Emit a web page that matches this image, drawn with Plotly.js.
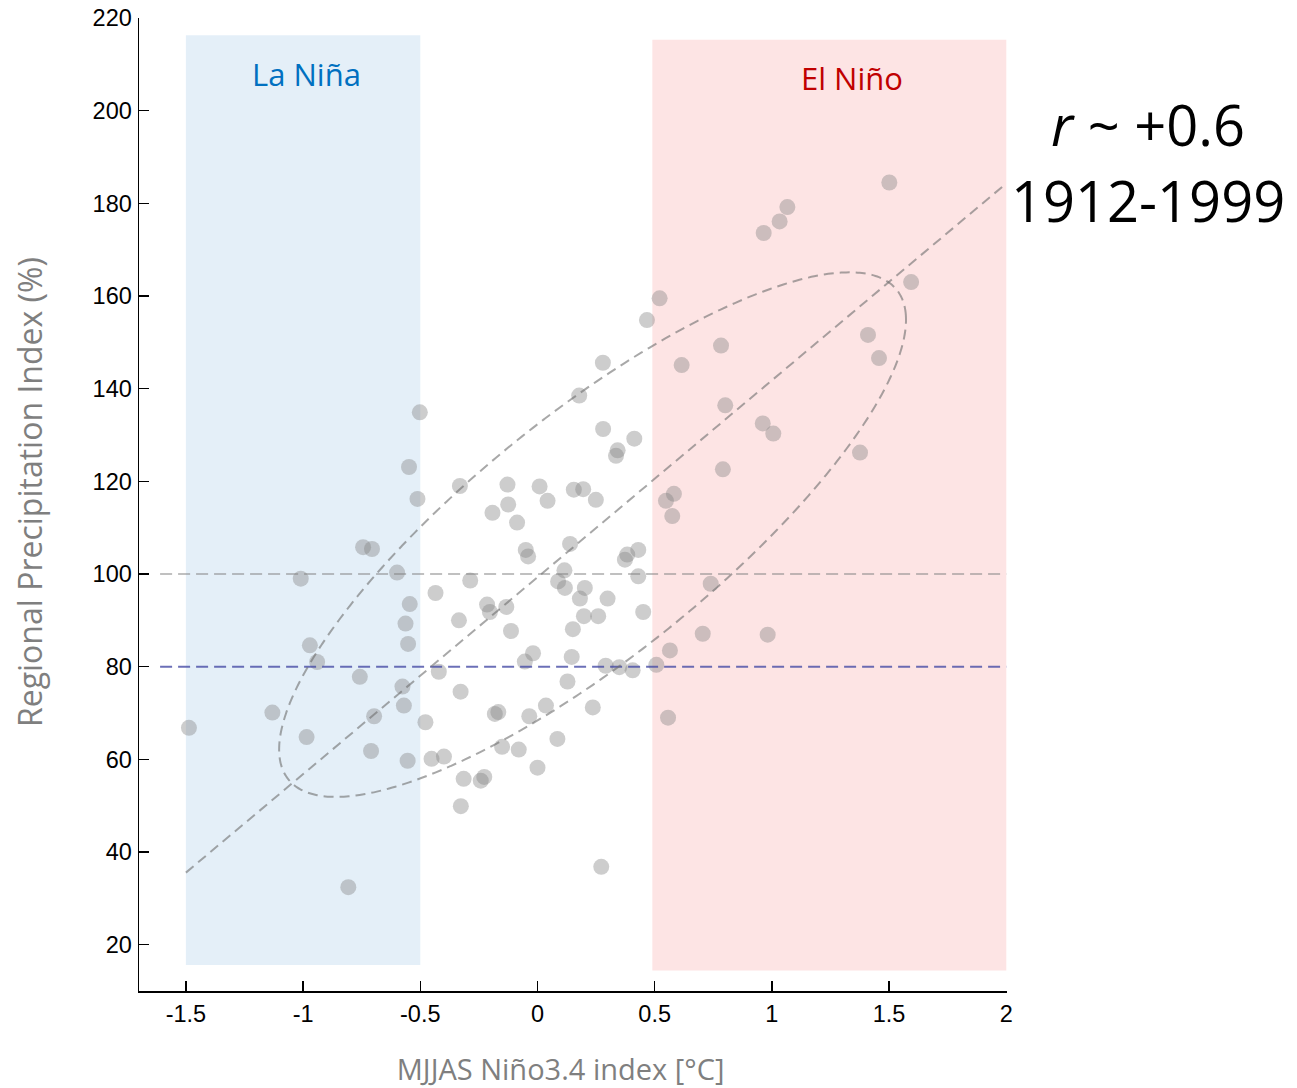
<!DOCTYPE html>
<html>
<head>
<meta charset="utf-8">
<script src="https://cdn.plot.ly/plotly-3.0.1.min.js"></script>
<style>html,body{margin:0;padding:0;background:#fff;}#chart{width:1297px;height:1088px;}</style>
</head>
<body>
<div id="chart"></div>
<script>
// ---- data ----
const ninoIndex = [
  -1.487,-1.131,-1.010,-0.985,-0.971,-0.940,-0.807,-0.758,-0.744,-0.706,
  -0.697,-0.710,-0.599,-0.576,-0.570,-0.563,-0.554,-0.552,-0.548,-0.545,
  -0.512,-0.502,-0.478,-0.452,-0.435,-0.421,-0.399,-0.335,-0.331,-0.328,
  -0.327,-0.315,-0.287,-0.242,-0.227,-0.215,-0.203,-0.192,-0.182,-0.167,
  -0.151,-0.133,-0.128,-0.125,-0.113,-0.087,-0.080,-0.054,-0.050,-0.040,
  -0.035,-0.019,0.000,0.009,0.036,0.043,0.085,0.088,0.115,0.117,
  0.128,0.139,0.146,0.151,0.155,0.178,0.195,0.181,0.202,0.198,
  0.236,0.249,0.259,0.272,0.279,0.280,0.291,0.299,0.335,0.342,
  0.349,0.373,0.383,0.406,0.413,0.430,0.430,0.451,0.467,0.507,
  0.521,0.548,0.557,0.565,0.575,0.582,0.615,0.705,0.739,0.783,
  0.791,0.801,0.961,0.965,0.982,1.006,1.033,1.066,1.376,1.410,
  1.457,1.501,1.594
];
const precipIndex = [
  66.8,70.1,99.0,64.8,84.6,81.0,32.4,77.8,105.8,105.4,
  69.3,61.8,100.3,75.7,71.6,89.3,59.7,84.9,123.1,93.5,
  116.2,134.9,68.0,60.1,95.9,78.9,60.6,90.0,119.0,74.6,
  49.9,55.8,98.6,55.4,56.2,93.4,91.8,113.2,69.8,70.2,
  62.7,92.9,119.3,115.0,87.7,111.1,62.1,81.1,105.2,103.8,
  69.3,82.9,58.2,118.9,71.6,115.8,64.4,98.4,100.8,97.0,
  76.8,106.5,82.1,88.1,118.2,138.5,118.3,94.7,97.0,90.9,
  71.2,116.0,90.9,36.8,145.6,131.3,80.2,94.7,125.5,126.7,
  79.9,103.1,104.2,79.2,129.2,105.2,99.5,91.8,154.8,80.4,
  159.5,115.8,69.0,83.5,112.5,117.3,145.1,87.1,97.9,149.3,
  122.6,136.4,132.5,173.6,86.9,130.3,176.1,179.2,126.2,151.6,
  146.6,184.5,163.0
];
const xTicks = [-1.5,-1,-0.5,0,0.5,1,1.5,2];
const xTickLabels = ['-1.5','-1','-0.5','0','0.5','1','1.5','2'];
const yTicks = [20,40,60,80,100,120,140,160,180,200,220];
const yTickLabels = ['20','40','60','80','100','120','140','160','180','200','220'];

// regions (Niño3.4 thresholds) and reference levels
const laNinaRange = [-1.5, -0.5];
const elNinoRange = [0.49, 2.0];
const referenceLevels = [100, 80];

// fitted regression line and confidence ellipse parameters
const fitSlope = 42.5;
const fitIntercept = 99.3;
const fitRange = [-1.5, 2.0];
const ellipseCenter = [0.235, 108.5];
const ellipseCov = [[1.788, 62.0], [62.0, 3204]];

// ---- build marks ----
const fitX = fitRange.slice();
const fitY = fitX.map(v => fitIntercept + fitSlope * v);

const L11 = Math.sqrt(ellipseCov[0][0]);
const L21 = ellipseCov[0][1] / L11;
const L22 = Math.sqrt(ellipseCov[1][1] - L21 * L21);
const ex = [], ey = [];
for (let i = 0; i <= 240; i++) {
  const t = 2 * Math.PI * i / 240;
  const c = Math.cos(t), s = Math.sin(t);
  ex.push(ellipseCenter[0] + L11 * c);
  ey.push(ellipseCenter[1] + L21 * c + L22 * s);
}

const hx = [-1.61, 2.0];
const pad = s => '<span style="color:rgba(0,0,0,0)">' + s + '</span>';

const traces = [
  {x: ninoIndex, y: precipIndex, type: 'scatter', mode: 'markers',
   marker: {size: 16, color: 'rgba(130,130,130,0.4)', line: {width: 0}},
   hoverinfo: 'skip', showlegend: false},
  {x: hx, y: [referenceLevels[0], referenceLevels[0]], type: 'scatter', mode: 'lines',
   line: {color: 'rgba(130,130,130,0.5)', width: 2, dash: '12px,6px'}, showlegend: false},
  {x: hx, y: [referenceLevels[1], referenceLevels[1]], type: 'scatter', mode: 'lines',
   line: {color: 'rgba(70,75,165,0.8)', width: 2, dash: '12px,6px'}, showlegend: false},
  {x: fitX, y: fitY, type: 'scatter', mode: 'lines',
   line: {color: 'rgba(110,110,110,0.6)', width: 2, dash: '10px,6px'}, showlegend: false},
  {x: ex, y: ey, type: 'scatter', mode: 'lines',
   line: {color: 'rgba(110,110,110,0.6)', width: 2, dash: '10px,6px', shape: 'spline'}, showlegend: false}
];

const layout = {
  width: 1297, height: 1088,
  margin: {l: 139, r: 290, t: 18, b: 97},
  paper_bgcolor: '#ffffff', plot_bgcolor: '#ffffff',
  showlegend: false,
  xaxis: {
    range: [-1.70, 2.003], tickvals: xTicks, ticktext: xTickLabels,
    ticks: 'inside', ticklen: 10, tickwidth: 1.5, tickcolor: '#000',
    showline: true, linecolor: '#000', linewidth: 1.5,
    showgrid: false, zeroline: false, ticklabelstandoff: 1,
    tickfont: {family: 'Liberation Sans, Arial, sans-serif', size: 23.5, color: '#000'},
    title: {text: 'MJJAS Niño3.4 index [°C]' + pad('oi'), standoff: 42,
            font: {family: 'Open Sans, sans-serif', size: 29, color: '#7f7f7f'}}
  },
  yaxis: {
    range: [10, 220], tickvals: yTicks, ticktext: yTickLabels,
    ticks: 'inside', ticklen: 10, tickwidth: 1.5, tickcolor: '#000',
    showline: true, linecolor: '#000', linewidth: 1.5,
    showgrid: false, zeroline: false, ticklabelstandoff: 1,
    tickfont: {family: 'Liberation Sans, Arial, sans-serif', size: 23.5, color: '#000'},
    title: {text: pad('xi') + 'Regional Precipitation Index (%)', standoff: 40,
            font: {family: 'Open Sans, sans-serif', size: 32, color: '#7f7f7f'}}
  },
  shapes: [
    {type: 'rect', layer: 'below', xref: 'x', yref: 'y',
     x0: laNinaRange[0], x1: laNinaRange[1], y0: 15.6, y1: 216.3,
     fillcolor: 'rgb(228,239,248)', line: {width: 0}},
    {type: 'rect', layer: 'below', xref: 'x', yref: 'y',
     x0: elNinoRange[0], x1: elNinoRange[1], y0: 14.4, y1: 215.3,
     fillcolor: 'rgb(253,228,228)', line: {width: 0}}
  ],
  annotations: [
    {text: 'La Niña', x: -0.984, y: 207.9, xref: 'x', yref: 'y', showarrow: false,
     xanchor: 'center', yanchor: 'middle',
     font: {family: 'Open Sans, sans-serif', size: 31, color: '#0070C0'}},
    {text: 'El Niño', x: 1.342, y: 207.1, xref: 'x', yref: 'y', showarrow: false,
     xanchor: 'center', yanchor: 'middle',
     font: {family: 'Open Sans, sans-serif', size: 31, color: '#C00000'}},
    {text: '<i>r</i> ~ +0.6', x: 1.1625, y: 0.891, xref: 'paper', yref: 'paper', showarrow: false,
     xanchor: 'center', yanchor: 'middle',
     font: {family: 'Open Sans, sans-serif', size: 56, color: '#000'}},
    {text: '1912-1999', x: 1.1625, y: 0.813, xref: 'paper', yref: 'paper', showarrow: false,
     xanchor: 'center', yanchor: 'middle',
     font: {family: 'Open Sans, sans-serif', size: 56, color: '#000'}}
  ]
};

Plotly.newPlot('chart', traces, layout, {staticPlot: true, displayModeBar: false});
</script>
</body>
</html>
